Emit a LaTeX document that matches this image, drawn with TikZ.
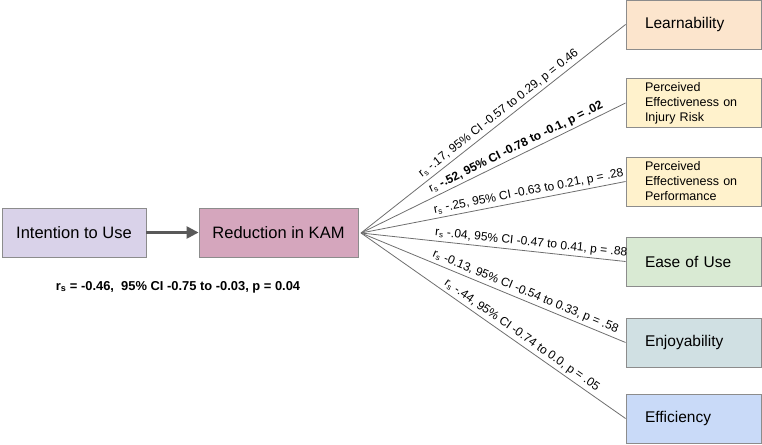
\documentclass[tikz,border=0pt]{standalone}
\usepackage{fontspec}
\setmainfont{Liberation Sans}
\usetikzlibrary{arrows.meta}
\definecolor{boxgray}{HTML}{8C8C8C}
\definecolor{linegray}{HTML}{6E6E6E}
\definecolor{arrowgray}{HTML}{595959}
\definecolor{cpeach}{HTML}{FCE5CD}
\definecolor{cyellow}{HTML}{FFF2CC}
\definecolor{cgreen}{HTML}{D9EAD3}
\definecolor{ccyan}{HTML}{D0E0E3}
\definecolor{cblue}{HTML}{C9DAF8}
\definecolor{cpurple}{HTML}{D9D2E9}
\definecolor{cmagenta}{HTML}{D5A6BD}
\begin{document}
\begin{tikzpicture}[x=1pt,y=-1pt,
  box/.style={draw=boxgray, line width=0.9pt, minimum height=49pt, inner sep=0pt},
  rbox/.style={box, minimum width=135pt, text width=97pt, inner xsep=19pt, align=left},
  big/.style={font=\fontsize{15.5}{18}\selectfont},
  small/.style={font=\fontsize{12.5}{15}\selectfont},
  conn/.style={draw=linegray, line width=0.8pt},
  lab/.style={sloped, above, inner sep=2.5pt, font=\fontsize{12}{14}\selectfont, text=black},
]
\useasboundingbox (0,0) rectangle (762,444);
\node[box, fill=cpurple, minimum width=144pt, font=\fontsize{16.5}{19}\selectfont] (itu) at (74,232.5) {Intention to Use};
\node[box, fill=cmagenta, minimum width=159pt, font=\fontsize{16.5}{19}\selectfont] (kam) at (278.5,232.5) {Reduction in KAM};
\draw[-{Triangle[length=12pt,width=12pt]}, line width=2.5pt, draw=arrowgray, fill=arrowgray] (itu) -- (kam);

\node[rbox, big, fill=cpeach] (learn) at (693.5,24.5) {Learnability};
\node[rbox, small, fill=cyellow] (injury) at (693.5,103) {Perceived\\Effectiveness on\\Injury Risk};
\node[rbox, small, fill=cyellow] (perf) at (693.5,181.5) {Perceived\\Effectiveness on\\Performance};
\node[rbox, big, fill=cgreen] (ease) at (693.5,261.5) {Ease of Use};
\node[rbox, big, fill=ccyan] (enjoy) at (693.5,342.5) {Enjoyability};
\node[rbox, big, fill=cblue] (eff) at (693.5,418.5) {Efficiency};

\coordinate (fan) at (361,233);
\draw[conn] (fan) -- node[lab, pos=0.54] {r\textsubscript{s} -.17, 95\% CI -0.57 to 0.29, p = 0.46} (learn.west);
\draw[conn] (fan) -- node[lab, pos=0.6] {r\textsubscript{s} \textbf{-.52, 95\% CI -0.78 to -0.1, p = .02}} (injury.west);
\draw[conn] (fan) -- node[lab, pos=0.64] {r\textsubscript{s} -.25, 95\% CI -0.63 to 0.21, p = .28} (perf.west);
\draw[conn] (fan) -- node[lab, pos=0.64] {r\textsubscript{s} -.04, 95\% CI -0.47 to 0.41, p = .88} (ease.west);
\draw[conn] (fan) -- node[lab, pos=0.61] {r\textsubscript{s} -0.13, 95\% CI -0.54 to 0.33, p = .58} (enjoy.west);
\draw[conn] (fan) -- node[lab, pos=0.59] {r\textsubscript{s} -.44, 95\% CI -0.74 to 0.0, p = .05} (eff.west);

\node[font=\bfseries\fontsize{12.9}{15}\selectfont] (corr) at (178,287) {r\textsubscript{s} = -0.46,\ \ 95\% CI -0.75 to -0.03, p = 0.04};
\end{tikzpicture}
\end{document}
